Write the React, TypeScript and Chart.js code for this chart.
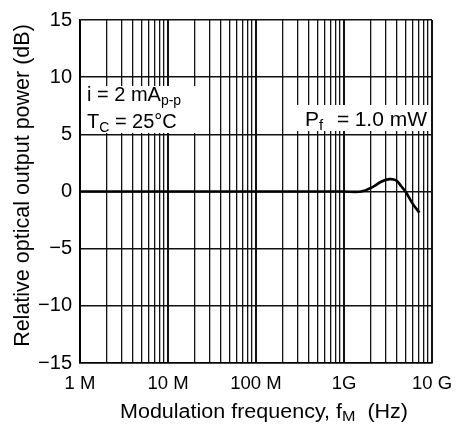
import React, { useEffect, useRef } from "react";
import { Chart, registerables } from "chart.js";

Chart.register(...registerables);

// Modulation frequency (Hz) and relative optical output power (dB)
const freqHz = [1e6, 1e7, 1e8, 1e9, 1.57e9, 2.13e9, 2.64e9, 3.28e9, 3.91e9, 4.45e9, 5.08e9, 6.04e9, 7.18e9];
const powerDb = [0, 0, 0, 0, 0, 0.41, 0.85, 1.08, 0.97, 0.48, -0.08, -1.08, -1.85];

const xMin = 1e6;
const xMax = 1e10;
const yMin = -15;
const yMax = 15;
const yStep = 5;
const decadeLabels: Record<string, string> = {
  "1000000": "1 M",
  "10000000": "10 M",
  "100000000": "100 M",
  "1000000000": "1G",
  "10000000000": "10 G",
};

const yTitle = "  Relative optical output power (dB)";
const xTitleMain = "Modulation frequency, f";
const xTitleSub = "M";
const xTitleTail = "  (Hz)";

const FONT = "'Liberation Sans', Arial, Helvetica, sans-serif";

function isDecade(v: number) {
  const l = Math.log10(v);
  return Math.abs(l - Math.round(l)) < 1e-9;
}

const annotationPlugin = {
  id: "annotations",
  beforeDatasetsDraw(chart: any) {
    const { ctx, chartArea } = chart;
    const L = chartArea.left;
    const T = chartArea.top;
    const R = chartArea.right;
    ctx.save();
    // white boxes behind texts
    ctx.fillStyle = "#fff";
    ctx.fillRect(L + 2, T + 66, 120, 47);
    ctx.fillRect(R - 137, T + 85, 135, 26);
    ctx.fillStyle = "#000";
    ctx.textBaseline = "alphabetic";
    ctx.textAlign = "left";
    const big = `20px ${FONT}`;
    const small = `14px ${FONT}`;
    // i = 2 mA p-p
    let x = L + 7;
    let y = T + 81;
    ctx.font = big;
    const t1 = "i = 2 mA";
    ctx.fillText(t1, x, y);
    x += ctx.measureText(t1).width;
    ctx.font = small;
    ctx.fillText("p-p", x, y + 4);
    // Tc = 25°C
    x = L + 7;
    y = T + 108;
    ctx.font = big;
    ctx.fillText("T", x, y);
    x += ctx.measureText("T").width;
    ctx.font = small;
    ctx.fillText("C", x, y + 4);
    x += ctx.measureText("C").width;
    ctx.font = big;
    ctx.fillText(" = 25°C", x, y);
    // Pf = 1.0 mW
    y = T + 106;
    ctx.font = `21px ${FONT}`;
    ctx.textAlign = "right";
    ctx.fillText("1.0 mW", R - 5, y);
    ctx.textAlign = "left";
    const px = R - 127;
    ctx.fillText("P", px, y);
    const pw = ctx.measureText("P").width;
    ctx.fillText("=", px + 32, y);
    ctx.font = `15px ${FONT}`;
    ctx.fillText("f", px + pw, y + 4);
    ctx.restore();
  },
  afterDraw(chart: any) {
    const { ctx, chartArea } = chart;
    ctx.save();
    ctx.fillStyle = "#000";
    ctx.textBaseline = "alphabetic";
    ctx.textAlign = "left";
    const big = `20px ${FONT}`;
    const small = `15px ${FONT}`;
    ctx.font = big;
    const w1 = ctx.measureText(xTitleMain).width;
    const w3 = ctx.measureText(xTitleTail).width;
    ctx.font = small;
    const w2 = ctx.measureText(xTitleSub).width;
    const total = w1 + w2 + w3;
    const targetWidth = 288;
    const sx = targetWidth / total;
    const cx = (chartArea.left + chartArea.right) / 2 + 8;
    const y = chartArea.bottom + 55;
    ctx.translate(cx - targetWidth / 2, y);
    ctx.scale(sx, 1);
    let x = 0;
    ctx.font = big;
    ctx.fillText(xTitleMain, x, 0);
    x += w1;
    ctx.font = small;
    ctx.fillText(xTitleSub, x, 3);
    x += w2;
    ctx.font = big;
    ctx.fillText(xTitleTail, x, 0);
    ctx.restore();
  },
};

export default function App() {
  const ref = useRef<HTMLCanvasElement | null>(null);
  useEffect(() => {
    if (!ref.current) return;
    const chart = new Chart(ref.current, {
      type: "line",
      data: {
        datasets: [
          {
            data: freqHz.map((f, i) => ({ x: f, y: powerDb[i] })),
            borderColor: "#000",
            borderWidth: 2.6,
            pointRadius: 0,
            tension: 0.35,
            fill: false,
          },
        ],
      },
      options: {
        animation: false,
        responsive: false,
        events: [],
        layout: { padding: { top: 12, right: 31, left: 0, bottom: 0 } },
        plugins: { legend: { display: false }, tooltip: { enabled: false } },
        scales: {
          x: {
            type: "logarithmic",
            min: xMin,
            max: xMax,
            afterBuildTicks(scale: any) {
              const ticks: any[] = [];
              for (let e = 6; e < 10; e++) {
                for (let m = 1; m < 10; m++) ticks.push({ value: m * Math.pow(10, e) });
              }
              ticks.push({ value: xMax });
              scale.ticks = ticks;
            },
            afterFit(scale: any) {
              scale.height = 67;
            },
            ticks: {
              autoSkip: false,
              maxRotation: 0,
              minRotation: 0,
              padding: 10,
              color: "#000",
              font: { family: FONT, size: 18.5 },
              callback: (v: any) => decadeLabels[String(Number(v))] ?? "",
            },
            grid: {
              color: "#111",
              lineWidth: (c: any) => (c.tick && isDecade(c.tick.value) ? 2 : 1.3),
              drawTicks: false,
            },
            border: { color: "#000", width: 1.6 },
          },
          y: {
            type: "linear",
            min: yMin,
            max: yMax,
            afterFit(scale: any) {
              scale.width = 80;
            },
            ticks: {
              stepSize: yStep,
              padding: 8,
              color: "#000",
              font: { family: FONT, size: 20 },
              callback: (v: any) => (Number(v) < 0 ? "\u2212" + Math.abs(Number(v)) : String(v)),
            },
            grid: { color: "#111", lineWidth: 1.6, drawTicks: false },
            border: { color: "#000", width: 1.6 },
            title: {
              display: true,
              text: yTitle,
              color: "#000",
              font: { family: FONT, size: 21.5 },
              padding: { top: 10, bottom: 0 },
            },
          },
        },
      },
      plugins: [annotationPlugin],
    });
    return () => chart.destroy();
  }, []);
  return (
    <div style={{ position: "absolute", left: 0, top: 0, width: 463, height: 430, background: "#fff" }}>
      <canvas ref={ref} width={463} height={430} style={{ display: "block" }} />
    </div>
  );
}
